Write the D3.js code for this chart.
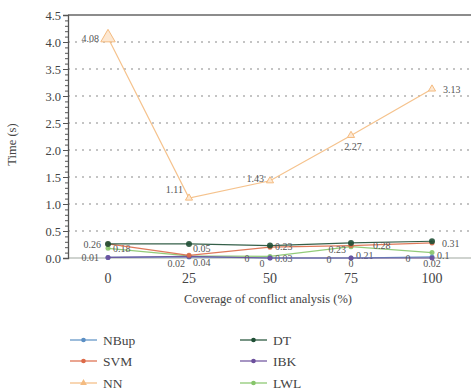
<!DOCTYPE html>
<html>
<head>
<meta charset="utf-8">
<script src="https://cdn.jsdelivr.net/npm/d3@7"></script>
<style>
  html, body { margin: 0; padding: 0; background: #fff; }
  text { font-family: "Liberation Serif", "DejaVu Serif", serif !important; }
</style>
</head>
<body>
<svg id="chart" width="471" height="392"></svg>
<script>
// Coverage levels (%)
const coverage = [0, 25, 50, 75, 100];
const yTicks = [0, 0.5, 1.0, 1.5, 2.0, 2.5, 3.0, 3.5, 4.0, 4.5];

// Time (s) per classifier
const nbup = [0.01, 0.02, 0, 0, 0.02];
const svm  = [0.26, 0.05, 0.20, 0.23, 0.28];
const nn   = [4.08, 1.11, 1.43, 2.27, 3.13];
const dt   = [0.26, 0.26, 0.23, 0.28, 0.31];
const ibk  = [0.01, 0.03, 0, 0, 0];
const lwl  = [0.18, 0.04, 0.03, 0.21, 0.1];

const seriesNames = ["NBup", "SVM", "NN", "DT", "IBK", "LWL"];
const seriesValues = [nbup, svm, nn, dt, ibk, lwl];

// Presentation
const FONT = "Liberation Serif";
const colors = {
  NBup: "#5b8fc4", SVM: "#dc6a48", NN: "#f4bb80",
  DT: "#1f4f35", IBK: "#6b4f9c", LWL: "#86c56a"
};
// value label placement per point: [dx, dy, anchor] or null (unlabelled)
const labelPlacement = {
  NN:   [[-9, 4, "end"], [-6, -5, "end"], [-6, 1, "end"], [2, 15, "middle"], [11, 4, "start"]],
  DT:   [[-7, 4, "end"], null, [5, 4, "start"], [22, 6, "start"], [10, 6, "start"]],
  SVM:  [null, [4, -3, "start"], null, [-5, 7, "end"], null],
  LWL:  [[5, 4, "start"], [4, 10, "start"], [5, 6, "start"], [5, 12, "start"], [5, 6, "start"]],
  NBup: [[-9, 4, "end"], [-4, 10, "end"], [-23, 4, "middle"], [-22, 5, "middle"], [0, 10, "middle"]],
  IBK:  [null, null, [-8, 9, "middle"], [0, 9, "middle"], [-24, 4, "middle"]]
};

const svg = d3.select("#chart").style("font-family", FONT);
const plotLeft = 68, plotRight = 471, plotTop = 15, plotBottom = 258;

const x = d3.scaleLinear().domain([0, 100]).range([108, 432]);
const y = d3.scaleLinear().domain([0, 4.5]).range([plotBottom, plotTop]);

// dotted grid
svg.append("g").selectAll("line")
  .data(yTicks.filter(t => t > 0 && t < 4.5))
  .join("line")
  .attr("x1", plotLeft).attr("x2", plotRight)
  .attr("y1", d => y(d)).attr("y2", d => y(d))
  .attr("stroke", "#8a8a8a").attr("stroke-width", 1.1)
  .attr("stroke-dasharray", "2,5");

// top frame line
svg.append("line")
  .attr("x1", plotLeft).attr("x2", plotRight).attr("y1", y(4.5)).attr("y2", y(4.5))
  .attr("stroke", "#8c8c8c").attr("stroke-width", 2.2);

// baseline
svg.append("line")
  .attr("x1", plotLeft).attr("x2", plotRight).attr("y1", y(0)).attr("y2", y(0))
  .attr("stroke", "#a0a8a0").attr("stroke-width", 1.2);

// y axis with minor ticks
const minor = d3.range(0, 4.501, 0.1);
const yMinor = svg.append("g").attr("transform", `translate(${plotLeft},0)`)
  .call(d3.axisLeft(y).tickValues(minor).tickSize(3).tickFormat(""));
yMinor.select(".domain").remove();
yMinor.selectAll("line").attr("stroke", "#555");

const yAxis = svg.append("g").attr("transform", `translate(${plotLeft},0)`)
  .call(d3.axisLeft(y).tickValues(yTicks).tickSize(5).tickFormat(d3.format(".1f")));
yAxis.attr("font-family", null).attr("font-size", 12.5);
yAxis.select(".domain").attr("stroke", "#555").attr("stroke-width", 1.3);
yAxis.selectAll("line").attr("stroke", "#555");
yAxis.selectAll("text").attr("x", -7).attr("fill", "#444");

// x tick labels
svg.append("g").selectAll("text")
  .data(coverage).join("text")
  .attr("x", d => x(d)).attr("y", 283)
  .attr("text-anchor", "middle").attr("font-size", 14).attr("fill", "#444")
  .text(d => d);

// axis titles
svg.append("text")
  .attr("x", 268).attr("y", 303).attr("text-anchor", "middle")
  .attr("font-size", 12.5).attr("fill", "#444").text("Coverage of conflict analysis (%)");
svg.append("text")
  .attr("transform", `translate(16,${(plotTop + plotBottom) / 2 + 8}) rotate(-90)`)
  .attr("text-anchor", "middle").attr("font-size", 12.5).attr("fill", "#444").text("Time (s)");

// lines and markers
const line = d3.line().x((d, i) => x(coverage[i])).y(d => y(d));
const drawOrder = ["LWL", "NBup", "IBK", "SVM", "DT", "NN"];
drawOrder.forEach(name => {
  const vals = seriesValues[seriesNames.indexOf(name)];
  const c = colors[name];
  const g = svg.append("g");
  g.append("path").datum(vals).attr("d", line)
    .attr("fill", "none").attr("stroke", c).attr("stroke-width", 1.2).attr("opacity", 0.9);
  if (name === "NN") {
    g.selectAll("path.m").data(vals).join("path").attr("class", "m")
      .attr("transform", (d, i) => `translate(${x(coverage[i])},${y(d)})`)
      .attr("d", (d, i) => d3.symbol(d3.symbolTriangle, i === 0 ? 90 : 22)())
      .attr("fill", "#fde8d2").attr("stroke", c).attr("stroke-width", 1);
  } else {
    g.selectAll("circle").data(vals).join("circle")
      .attr("cx", (d, i) => x(coverage[i])).attr("cy", d => y(d))
      .attr("r", name === "DT" ? 3 : 2.5)
      .attr("fill", c).attr("opacity", 0.9);
  }
  // value labels
  const place = labelPlacement[name];
  const labelled = vals.map((v, i) => ({ v, i, p: place[i] })).filter(d => d.p);
  g.selectAll("text").data(labelled).join("text")
    .attr("font-size", 10).attr("fill", "#555")
    .attr("x", d => x(coverage[d.i]) + d.p[0])
    .attr("y", d => y(d.v) + d.p[1])
    .attr("text-anchor", d => d.p[2])
    .text(d => d.v);
});

// legend
const legendPos = [[70, 340], [70, 361], [70, 383], [240, 340], [240, 361], [240, 383]];
seriesNames.forEach((name, k) => {
  const [lx, ly] = legendPos[k];
  const g = svg.append("g").attr("transform", `translate(${lx},${ly})`);
  g.append("line").attr("x1", 0).attr("x2", 27).attr("stroke", colors[name]).attr("stroke-width", 1.2);
  if (name === "NN") {
    g.append("path").attr("transform", "translate(13.5,0)")
      .attr("d", d3.symbol(d3.symbolTriangle, 20)()).attr("fill", colors[name]);
  } else {
    g.append("circle").attr("cx", 13.5).attr("r", 2.3).attr("fill", colors[name]);
  }
  g.append("text").attr("x", 33).attr("y", 4.5).attr("font-size", 13.5).attr("fill", "#444").text(name);
});
</script>
</body>
</html>
